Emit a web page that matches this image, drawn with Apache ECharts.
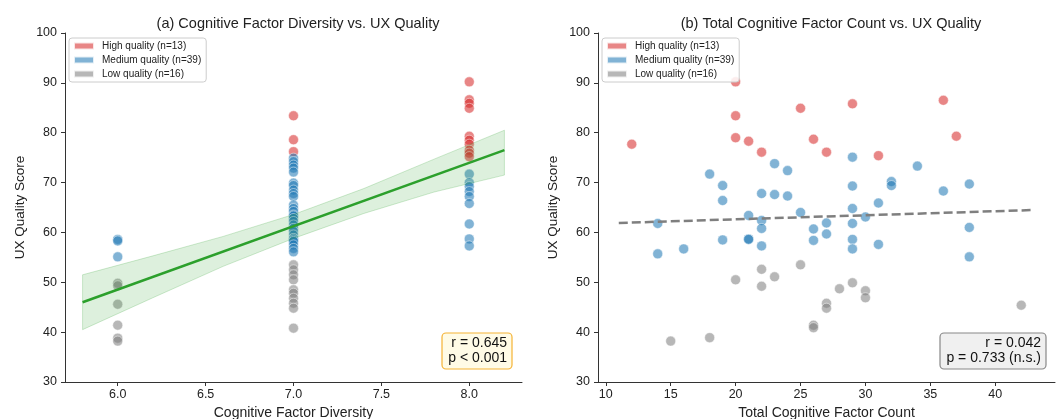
<!DOCTYPE html>
<html>
<head>
<meta charset="utf-8">
<script src="https://cdn.jsdelivr.net/npm/echarts@6/dist/echarts.min.js"></script>
<style>
  html, body { margin: 0; padding: 0; background: #fff; }
  #main { width: 1061px; height: 419px; }
</style>
</head>
<body>
<div id="main"></div>
<script>
// ---- data ----
// panel (a): [diversity, score]
var leftHigh = [
  [7, 83.4], [7, 78.6], [7, 76.2],
  [8, 90.2], [8, 86.6], [8, 85.9], [8, 84.9], [8, 79.3], [8, 78.5], [8, 77.7], [8, 76.5], [8, 75.9], [8, 75.2]
];
var leftMedium = [
  [6, 58.6], [6, 58.3], [6, 55.1],
  [7, 74.9], [7, 74.2], [7, 73.5], [7, 72.9], [7, 72.1], [7, 69.9], [7, 69.4], [7, 68.5], [7, 67.8],
  [7, 67.2], [7, 65.5], [7, 64.8], [7, 64.2], [7, 63.5], [7, 63.3], [7, 62.8], [7, 62.2], [7, 61.5],
  [7, 60.8], [7, 60.2], [7, 59.5], [7, 58.8], [7, 58.5], [7, 58.2], [7, 57.5], [7, 56.8], [7, 56.1],
  [8, 71.7], [8, 70.0], [8, 69.2], [8, 68.2], [8, 67.2], [8, 65.8], [8, 61.7], [8, 58.7], [8, 57.3]
];
var leftLow = [
  [6, 49.8], [6, 49.3], [6, 45.6], [6, 41.4], [6, 38.8], [6, 38.2],
  [7, 53.5], [7, 52.5], [7, 51.5], [7, 50.5], [7, 48.5], [7, 47.8], [7, 46.8], [7, 45.8], [7, 44.8], [7, 40.8]
];
// regression line and its confidence band in (a)
var fitLeft = [[5.8, 46.0], [8.2, 76.5]];
var bandX = [5.8, 6.2, 6.6, 7.0, 7.4, 7.8, 8.2];
var bandUpper = [51.5, 55.3, 59.2, 63.6, 68.8, 74.7, 80.5];
var bandLower = [40.5, 46.9, 53.2, 58.8, 63.8, 68.1, 71.5];

// panel (b): [total count, score]
var rightHigh = [
  [12, 77.7], [20, 90.2], [20, 83.4], [20, 79.0], [21, 78.3], [22, 76.1], [25, 84.9],
  [26, 78.7], [27, 76.1], [29, 85.8], [31, 75.4], [36, 86.5], [37, 79.3]
];
var rightMedium = [
  [14, 61.8], [14, 55.7], [16, 56.7], [18, 71.7], [19, 69.4], [19, 66.4], [19, 58.5],
  [21, 63.4], [21, 58.7], [21, 58.6], [22, 67.8], [22, 62.4], [22, 60.8], [22, 57.3],
  [23, 73.8], [23, 67.6], [24, 72.4], [24, 67.3], [25, 64.0], [26, 60.7], [26, 58.4],
  [27, 61.9], [27, 59.7], [29, 75.1], [29, 69.3], [29, 64.8], [29, 61.8], [29, 58.6],
  [29, 56.7], [30, 63.1], [31, 65.9], [31, 57.6], [32, 70.2], [32, 69.4], [34, 73.3],
  [36, 68.3], [38, 69.7], [38, 61.0], [38, 55.1]
];
var rightLow = [
  [15, 38.2], [18, 38.9], [20, 50.5], [22, 52.6], [22, 49.2], [23, 51.1], [25, 53.5],
  [26, 41.4], [26, 40.9], [27, 45.8], [27, 44.8], [28, 48.7], [29, 49.9], [30, 48.3],
  [30, 46.9], [42, 45.4]
];
var fitRight = [[11, 61.9], [43, 64.5]];

var leftTicks = [6.0, 6.5, 7.0, 7.5, 8.0];
var rightTicks = [10, 15, 20, 25, 30, 35, 40];
var names = ['High quality (n=13)', 'Medium quality (n=39)', 'Low quality (n=16)'];
var colors = ['rgba(214,39,40,0.7)', 'rgba(31,119,180,0.7)', 'rgba(127,127,127,0.7)'];

var font = '"Liberation Sans", Arial, sans-serif';

var myChart = echarts.init(document.getElementById('main'));

function scatter(name, color, data, idx) {
  return {
    name: name,
    type: 'scatter',
    xAxisIndex: idx,
    yAxisIndex: idx,
    data: data,
    symbolSize: 10,
    itemStyle: { color: color, borderColor: '#fff', borderWidth: 0.6 },
    z: 2
  };
}

function xAxisCfg(idx, min, max, ticks, name, fmt) {
  return {
    type: 'value', gridIndex: idx, min: min, max: max,
    name: name, nameLocation: 'middle', nameGap: 21,
    nameTextStyle: { fontSize: 14, color: '#222', fontFamily: font },
    axisLine: { show: true, onZero: false, lineStyle: { color: '#333', width: 1 } },
    axisTick: { show: true, length: 4, customValues: ticks, lineStyle: { color: '#333' } },
    axisLabel: { customValues: ticks, fontSize: 12.5, color: '#222', margin: 6, fontFamily: font, formatter: fmt },
    splitLine: { show: false }
  };
}

function yAxisCfg(idx) {
  return {
    type: 'value', gridIndex: idx, min: 30, max: 100, interval: 10,
    name: 'UX Quality Score', nameLocation: 'middle', nameGap: 38,
    nameTextStyle: { fontSize: 13.5, color: '#222', fontFamily: font },
    axisLine: { show: true, lineStyle: { color: '#333', width: 1 } },
    axisTick: { show: true, length: 4, lineStyle: { color: '#333' } },
    axisLabel: { fontSize: 12.5, color: '#222', margin: 8, fontFamily: font },
    splitLine: { show: false }
  };
}

function legendCfg(left) {
  return {
    left: left, top: 38, orient: 'vertical',
    data: names, selectedMode: false,
    icon: 'rect', itemWidth: 20, itemHeight: 7, itemGap: 4,
    padding: [3, 5, 3, 4],
    backgroundColor: 'rgba(255,255,255,0.85)',
    borderColor: '#ccc', borderWidth: 1, borderRadius: 3,
    textStyle: { fontSize: 10, color: '#222', fontFamily: font, lineHeight: 10, padding: [0, 0, 0, 3] }
  };
}

function statBox(x, y, w, h, text, fill, stroke) {
  return {
    type: 'group', z: 10,
    children: [
      { type: 'rect', shape: { x: x, y: y, width: w, height: h, r: 4 },
        style: { fill: fill, stroke: stroke, lineWidth: 1.2 } },
      { type: 'text', style: { x: x + w - 5, y: y + 3, text: text, align: 'right', verticalAlign: 'top',
        font: '14px ' + font, fill: '#111', lineHeight: 15 } }
    ]
  };
}

var option = {
  animation: false,
  color: colors,
  title: [
    { text: '(a) Cognitive Factor Diversity vs. UX Quality', left: 293, top: 11, textAlign: 'center',
      textStyle: { fontSize: 14.5, fontWeight: 'normal', color: '#222', fontFamily: font } },
    { text: '(b) Total Cognitive Factor Count vs. UX Quality', left: 826, top: 11, textAlign: 'center',
      textStyle: { fontSize: 14.5, fontWeight: 'normal', color: '#222', fontFamily: font } }
  ],
  legend: [legendCfg(69), legendCfg(602)],
  grid: [
    { left: 65, top: 33, width: 457, height: 349, outerBoundsMode: 'none', containLabel: false },
    { left: 598, top: 33, width: 457, height: 349, outerBoundsMode: 'none', containLabel: false }
  ],
  xAxis: [
    xAxisCfg(0, 5.7, 8.3, leftTicks, 'Cognitive Factor Diversity', function (v) { return v.toFixed(1); }),
    xAxisCfg(1, 9.4, 44.6, rightTicks, 'Total Cognitive Factor Count', function (v) { return String(v); })
  ],
  yAxis: [yAxisCfg(0), yAxisCfg(1)],
  series: [
    scatter(names[0], colors[0], leftHigh, 0),
    scatter(names[1], colors[1], leftMedium, 0),
    scatter(names[2], colors[2], leftLow, 0),
    scatter(names[0], colors[0], rightHigh, 1),
    scatter(names[1], colors[1], rightMedium, 1),
    scatter(names[2], colors[2], rightLow, 1),
    {
      type: 'custom',
      xAxisIndex: 0, yAxisIndex: 0,
      data: [0],
      z: 3,
      renderItem: function (params, api) {
        var pts = [];
        for (var i = 0; i < bandX.length; i++) pts.push(api.coord([bandX[i], bandUpper[i]]));
        for (var j = bandX.length - 1; j >= 0; j--) pts.push(api.coord([bandX[j], bandLower[j]]));
        return {
          type: 'polygon',
          shape: { points: pts },
          style: { fill: 'rgba(44,160,44,0.16)', stroke: 'rgba(44,160,44,0.22)', lineWidth: 1 }
        };
      }
    },
    {
      type: 'line', xAxisIndex: 0, yAxisIndex: 0, data: fitLeft,
      showSymbol: false, z: 4,
      lineStyle: { color: '#2ca02c', width: 2.5 }
    },
    {
      type: 'line', xAxisIndex: 1, yAxisIndex: 1, data: fitRight,
      showSymbol: false, z: 4,
      lineStyle: { color: '#7f7f7f', width: 2.5, type: [9, 4] }
    }
  ],
  graphic: [
    statBox(442, 333, 70, 36, 'r = 0.645\np < 0.001', '#fffbe6', '#f5b335'),
    statBox(940, 333, 106, 36, 'r = 0.042\np = 0.733 (n.s.)', '#f0f0f0', '#888')
  ]
};

myChart.setOption(option);
</script>
</body>
</html>
